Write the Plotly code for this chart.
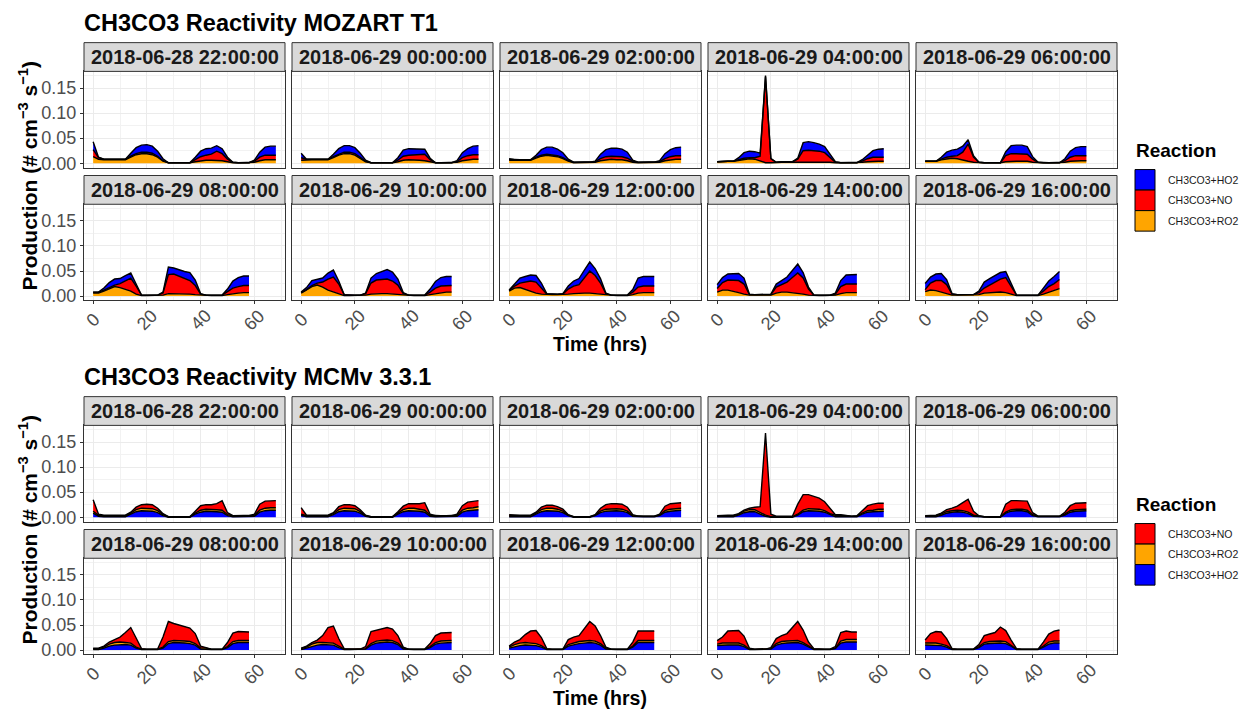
import plotly.graph_objects as go

# ---------------------------------------------------------------------------
# Data: CH3CO3 production (# cm-3 s-1) for each model run start time,
# sampled every 2 hours of simulated time.
# ---------------------------------------------------------------------------
RUN_LABELS = [
    "2018-06-28 22:00:00", "2018-06-29 00:00:00", "2018-06-29 02:00:00",
    "2018-06-29 04:00:00", "2018-06-29 06:00:00", "2018-06-29 08:00:00",
    "2018-06-29 10:00:00", "2018-06-29 12:00:00", "2018-06-29 14:00:00",
    "2018-06-29 16:00:00",
]
HOURS = [0, 2, 4, 6, 8, 10, 12, 14, 16, 18, 20, 22, 24, 26, 28, 30, 32, 34,
         36, 38, 40, 42, 44, 46, 48, 50, 52, 54, 56, 58, 60, 62, 64, 66, 68]
X_TICKS = [0, 20, 40, 60]
Y_TICKS = [0.0, 0.05, 0.10, 0.15]
Y_TICK_TEXT = ["0.00", "0.05", "0.10", "0.15"]

# MOZART T1 mechanism
moz_ro2 = [
    [.013,.008,.007,.007,.007,.007,.007, .012,.017,.019,.019,.017,.012,.004, .001,.001,.001,.001,.001, .003,.005,.006,.006,.006,.005,.003, .001,.001,.001,.001, .002,.005,.007,.007,.007],
    [.006,.007,.007,.007,.007,.007, .011,.016,.019,.019,.016,.010,.003, .001,.001,.001,.001,.001, .003,.006,.007,.007,.006,.005,.003, .001,.001,.001,.001, .002,.005,.007,.008,.008],
    [.006,.006,.006,.006,.006, .010,.014,.016,.015,.013,.009,.004, .001,.001,.001,.001, .002,.005,.007,.008,.007,.007,.005,.002, .001,.001,.001,.001, .002,.005,.007,.008,.008],
    [.003,.004,.004,.004, .006,.008,.009,.008,.004,.001,.001, .002,.002,.002,.002, .002,.003,.003,.003,.003,.003,.002,.001, .001,.001,.001,.001, .002,.003,.004,.004,.004],
    [.004,.004,.004, .007,.009,.010,.009,.006,.004,.002,.001, .001,.001,.001,.001, .003,.004,.004,.004,.004,.002,.001, .001,.001,.001,.001, .002,.004,.005,.005,.005],
    [.006,.006,.010,.015,.019,.017,.013,.010,.004, .001,.001,.001,.001, .002,.005,.005,.005,.005,.004,.003, .002,.001,.001,.001,.001, .003,.005,.006,.007,.007],
    [.006,.012,.019,.022,.018,.012,.008,.004,.001, .001,.001,.001, .002,.004,.005,.005,.005,.004,.003,.002, .001,.001,.001,.001, .003,.005,.007,.008,.008],
    [.010,.016,.017,.013,.009,.006,.004,.003, .003,.003,.003, .004,.005,.006,.006,.006,.005,.004,.002, .001,.001,.001,.001, .003,.006,.007,.007,.007],
    [.008,.012,.012,.010,.007,.004,.002, .002,.002,.002,.002, .006,.008,.008,.007,.006,.004,.002,.001, .001,.001,.001, .002,.005,.007,.007,.007],
    [.009,.012,.011,.008,.005,.002, .002,.002,.002,.002, .003,.006,.007,.008,.008,.007,.004,.001, .001,.001,.001,.001, .004,.008,.011,.015],
]
moz_no = [
    [.014,.003,.001,.001,.001,.001,.001, .002,.002,.003,.003,.003,.002,.001, 0,0,0,0,0, .004,.008,.010,.012,.018,.014,.005, .001,0,0,0, .002,.007,.009,.009,.009],
    [.005,.001,.001,.001,.001,.001, .002,.002,.003,.003,.003,.002,.001, 0,0,0,0,0, .003,.008,.009,.010,.011,.013,.004, 0,0,0,0, .001,.006,.008,.009,.009],
    [.002,.001,.001,.001,.001, .002,.002,.002,.002,.002,.002,.001, .001,.001,.001,.001, .001,.004,.006,.006,.006,.006,.005,.002, .001,.001,.001,.001, .001,.004,.006,.007,.007],
    [0,0,0,0, .001,.002,.002,.003,.010,.172,.008, 0,.001,.001,.001, .006,.022,.023,.022,.021,.018,.010,.001, 0,0,0,0, .002,.006,.008,.008,.008],
    [0,0,0, .001,.003,.004,.006,.016,.034,.010,.001, 0,0,0,0, .012,.015,.015,.015,.014,.006,.001, 0,0,0,0, .003,.008,.010,.010,.010],
    [.002,.002,.002,.002,.003,.008,.018,.026,.016, .001,.001,.001,.001, .004,.038,.039,.035,.030,.027,.018, .002,.001,.001,.001,.001, .006,.011,.013,.014,.014],
    [.001,.001,.002,.004,.010,.022,.030,.020,.002, .001,.001,.001, .003,.022,.027,.028,.029,.026,.019,.003, .001,.001,.001,.001, .005,.011,.013,.013,.013],
    [.001,.004,.009,.015,.021,.022,.012,.001, .001,.001,.001, .010,.015,.017,.030,.044,.036,.022,.003, .001,.001,.001,.001, .005,.012,.013,.013,.013],
    [.007,.015,.020,.022,.024,.020,.001, .001,.001,.001,.001, .012,.015,.020,.030,.040,.032,.012,.001, .001,.001,.001, .002,.014,.017,.017,.017],
    [.004,.014,.020,.023,.018,.002, .001,.001,.001,.001, .004,.010,.015,.020,.026,.030,.014,.001, .001,.001,.001,.001, .006,.011,.014,.018],
]
moz_ho2 = [
    [.016,.001,0,0,0,0,0, .006,.012,.014,.015,.014,.010,.004, 0,0,0,0,0, .005,.011,.013,.012,.011,.010,.004, 0,0,0,0, .002,.010,.016,.018,.018],
    [.009,0,0,0,0,0, .005,.011,.013,.013,.012,.008,.002, 0,0,0,0,0, .005,.012,.013,.012,.011,.010,.003, 0,0,0,0, .002,.010,.014,.017,.018],
    [.001,0,0,0,0, .004,.011,.014,.015,.013,.010,.003, 0,0,0,0, .001,.009,.014,.016,.017,.015,.012,.002, 0,0,0,0, .002,.010,.014,.016,.017],
    [0,0,0,0, .004,.011,.013,.012,.006,.002,0, 0,0,0,0, .002,.016,.017,.016,.014,.012,.006,.001, 0,0,0,0, .003,.008,.013,.016,.017],
    [0,0,0, .004,.010,.012,.013,.012,.009,.003,0, 0,0,0,0, .008,.016,.017,.017,.015,.005,0, 0,0,0,0, .004,.012,.016,.018,.018],
    [0,0,.004,.010,.012,.010,.010,.010,.004, 0,0,0,0, .002,.015,.012,.012,.014,.016,.011, .001,0,0,0,0, .005,.014,.018,.019,.019],
    [.001,.004,.010,.008,.008,.012,.014,.006,0, 0,0,0, .001,.010,.013,.016,.019,.018,.012,.002, 0,0,0,0, .006,.013,.017,.018,.018],
    [.001,.005,.010,.011,.012,.013,.010,.001, 0,0,.001, .006,.010,.012,.016,.018,.014,.009,.001, 0,0,0,0, .005,.018,.019,.019,.019],
    [.008,.010,.012,.013,.014,.012,.001, 0,0,0,.001, .006,.008,.010,.014,.018,.011,.004,0, 0,0,0, .002,.012,.018,.019,.019],
    [.012,.012,.013,.014,.010,.001, 0,0,0,0, .003,.012,.013,.013,.013,.012,.006,0, 0,0,0,0, .006,.011,.014,.016],
]

# MCM v3.3.1 mechanism
mcm_ho2 = [
    [.008,.002, .001,.001,.001,.001,.001, .006,.011,.013,.013,.012,.009,.003, 0,0,0,0,0, .006,.010,.012,.012,.011,.010,.003, .001,.001,.001,.001, .002,.010,.013,.014,.014],
    [.004,.001, .001,.001,.001,.001, .005,.011,.013,.013,.012,.008,.002, 0,0,0,0,0, .006,.011,.013,.013,.012,.010,.002, .001,.001,.001,.001, .002,.010,.013,.014,.015],
    [.001,.001,.001,.001,.001, .006,.011,.013,.013,.012,.009,.003, 0,0,0,0, .003,.009,.012,.013,.013,.012,.009,.002, .001,.001,.001,.001, .003,.010,.012,.013,.014],
    [.001,.001,.001,.001, .004,.009,.011,.011,.006,.002,0, 0,0,0,0, .004,.011,.013,.013,.012,.010,.005, .001,.001,.001,.001,.001, .006,.010,.011,.012,.012],
    [.001,.001,.001, .004,.008,.010,.011,.010,.007,.002,.001, 0,0,0,0, .008,.012,.013,.013,.011,.003, .001,.001,.001,.001,.001, .004,.010,.012,.013,.013],
    [.001,.001,.004,.008,.010,.011,.011,.010,.004,.001, .001,.001,.001, .004,.013,.015,.015,.014,.013,.010,.002,.001, .001,.001,.001, .005,.013,.015,.015,.015],
    [.001,.004,.008,.010,.011,.011,.010,.005,.001, .001,.001,.001, .002,.010,.014,.015,.016,.015,.011,.002, .001,.001,.001,.001, .005,.012,.014,.015,.015],
    [.004,.007,.009,.010,.010,.009,.006,.001, .001,.001,.001, .008,.011,.013,.014,.015,.014,.010,.002, .001,.001,.001,.001, .006,.015,.015,.015,.015],
    [.009,.010,.010,.010,.010,.007,.001, .001,.001,.001, .002,.010,.013,.014,.015,.015,.012,.006,.001, .001,.001,.001, .003,.014,.016,.016,.016],
    [.010,.010,.010,.009,.006,.001, .001,.001,.001,.001, .005,.012,.013,.014,.014,.013,.008,.001, .001,.001,.001,.001, .006,.012,.014,.014],
]
mcm_ro2 = [
    [.004,.002, .002,.002,.002,.002,.002, .002,.004,.005,.005,.005,.004,.002, .001,.001,.001,.001,.001, .002,.004,.004,.004,.004,.004,.002, .002,.002,.002,.002, .002,.004,.005,.005,.005],
    [.002,.002, .002,.002,.002,.002, .002,.004,.005,.005,.005,.003,.001, .001,.001,.001,.001,.001, .002,.004,.005,.005,.004,.004,.002, .002,.002,.002,.002, .002,.004,.005,.005,.006],
    [.002,.002,.002,.002,.002, .002,.004,.005,.005,.004,.003,.001, .001,.001,.001,.001, .001,.003,.004,.004,.004,.004,.003,.001, .001,.001,.001,.001, .001,.003,.004,.004,.004],
    [.001,.002,.002,.002, .002,.003,.004,.004,.003,.002,.001, .001,.001,.001,.001, .002,.003,.004,.004,.004,.003,.002, .003,.003,.002,.001,.001, .002,.003,.003,.004,.004],
    [.001,.002,.002, .002,.003,.003,.003,.003,.003,.002,.001, .001,.001,.001,.001, .002,.003,.003,.003,.003,.002, .001,.001,.001,.001,.001, .002,.003,.003,.003,.003],
    [.002,.002,.002,.004,.005,.005,.004,.004,.002,.001, .001,.001,.001, .002,.004,.004,.004,.004,.004,.003,.002,.003, .001,.001,.001, .002,.004,.004,.004,.004],
    [.002,.002,.004,.005,.004,.004,.004,.003,.001, .001,.001,.001, .001,.003,.004,.004,.004,.004,.003,.002, .001,.001,.001,.001, .002,.003,.004,.004,.004],
    [.002,.004,.005,.005,.004,.004,.003,.001, .001,.001,.001, .003,.003,.004,.004,.004,.004,.003,.002, .001,.001,.001,.001, .002,.004,.004,.004,.004],
    [.003,.004,.004,.004,.004,.003,.001, .001,.001,.001, .001,.003,.004,.004,.004,.004,.003,.002,.001, .001,.001,.001, .001,.004,.005,.005,.005],
    [.004,.004,.004,.003,.003,.001, .001,.001,.001,.001, .002,.003,.004,.004,.004,.004,.002,.001, .001,.001,.001,.001, .002,.004,.004,.004],
]
mcm_no = [
    [.023,.002, .001,.001,.001,.001,.001, .002,.005,.007,.008,.008,.005,.002, 0,0,0,0,0, .004,.009,.009,.009,.012,.019,.004, 0,0,0,0, .002,.012,.014,.014,.014],
    [.013,.001, .001,.001,.001,.001, .002,.006,.007,.007,.006,.004,.001, 0,0,0,0,0, .003,.007,.009,.009,.011,.015,.002, 0,0,0,0, .002,.009,.012,.013,.012],
    [.002,.001,.001,.001,.001, .002,.005,.006,.006,.005,.004,.001, 0,0,0,0, .001,.006,.009,.010,.010,.010,.008,.002, 0,0,0,0, .002,.009,.011,.011,.011],
    [.001,.001,.001,.001, .001,.002,.003,.005,.012,.164,.005, .001,.001,.001,.001, .020,.031,.028,.025,.022,.018,.010, .001,.001,0,0,.001, .006,.010,.012,.012,.012],
    [.001,.001,.001, .002,.004,.005,.008,.016,.026,.008,.001, 0,0,0,0, .016,.018,.017,.017,.018,.004, 0,0,0,0,0, .004,.010,.013,.013,.013],
    [.001,.001,.002,.004,.006,.010,.020,.031,.018,.001, 0,0,0, .020,.040,.034,.031,.029,.027,.020,.004,.001, 0,0,0, .008,.017,.018,.018,.017],
    [.001,.002,.003,.005,.014,.030,.034,.015,.001, 0,0,0, .004,.024,.022,.023,.025,.023,.015,.002, 0,0,0,0, .006,.014,.016,.016,.016],
    [.002,.005,.007,.016,.024,.026,.016,.001, 0,0,0, .010,.012,.012,.024,.038,.030,.016,.002, 0,0,0,0, .008,.019,.019,.019,.019],
    [.007,.012,.024,.025,.025,.018,.002, 0,0,0, .002,.010,.012,.015,.026,.038,.025,.008,.001, 0,0,0, .003,.017,.017,.015,.015],
    [.006,.019,.023,.024,.014,.001, 0,0,0,0, .004,.014,.015,.017,.028,.022,.010,.001, 0,0,0,0, .008,.016,.020,.022],
]

COLORS = {"CH3CO3+HO2": "#0000FF", "CH3CO3+NO": "#FF0000", "CH3CO3+RO2": "#FFA500"}

# Each block: title, stacking order (bottom -> top) and legend order
BLOCKS = [
    {
        "title": "CH3CO3 Reactivity MOZART T1",
        "stack": [("CH3CO3+RO2", moz_ro2), ("CH3CO3+NO", moz_no), ("CH3CO3+HO2", moz_ho2)],
        "legend": ["CH3CO3+HO2", "CH3CO3+NO", "CH3CO3+RO2"],
    },
    {
        "title": "CH3CO3 Reactivity MCMv 3.3.1",
        "stack": [("CH3CO3+HO2", mcm_ho2), ("CH3CO3+RO2", mcm_ro2), ("CH3CO3+NO", mcm_no)],
        "legend": ["CH3CO3+NO", "CH3CO3+RO2", "CH3CO3+HO2"],
    },
]

# ---------------------------------------------------------------------------
# Layout geometry (pixels)
# ---------------------------------------------------------------------------
W, H = 1243, 713
COL_LEFT = [84, 292, 500, 708, 916]
PANEL_W = 201
ROW_TOP = [72, 206]
PANEL_H = 97
STRIP_H = 29
BLOCK_OFFSET = [0, 357]
X_RANGE = [-3.4, 71.4]
Y_RANGE = [-0.0087, 0.1832]

FONT = "Liberation Sans, Arial, Helvetica, sans-serif"
GRID = "#EBEBEB"
FRAME = "#333333"
TICK_TXT = "#4D4D4D"


def px(x):
    return x / W


def py(y):
    return 1 - y / H


fig = go.Figure()
shapes = []
annotations = []

for b, block in enumerate(BLOCKS):
    off = BLOCK_OFFSET[b]
    for i, label in enumerate(RUN_LABELS):
        n = b * 10 + i + 1
        row, col = divmod(i, 5)
        left = COL_LEFT[col]
        top = ROW_TOP[row] + off
        xname = "x" if n == 1 else f"x{n}"
        yname = "y" if n == 1 else f"y{n}"
        xkey = "xaxis" if n == 1 else f"xaxis{n}"
        ykey = "yaxis" if n == 1 else f"yaxis{n}"

        npts = len(block["stack"][0][1][i])
        hrs = HOURS[:npts]
        for name, series in block["stack"]:
            vals = series[i]
            if len(vals) != npts:
                raise ValueError(f"length mismatch {name} panel {i}")
            fig.add_trace(go.Scatter(
                x=hrs, y=vals, xaxis=xname, yaxis=yname,
                stackgroup=f"s{n}", mode="lines", name=name,
                line=dict(color="black", width=1.4),
                fillcolor=COLORS[name], showlegend=False,
                hoverinfo="skip",
            ))

        bottom_row = row == 1
        first_col = col == 0
        fig.layout[xkey] = dict(
            domain=[px(left), px(left + PANEL_W)], anchor=yname,
            range=X_RANGE, tickvals=X_TICKS, showticklabels=False,
            ticks="outside" if bottom_row else "", ticklen=3,
            tickcolor=FRAME, tickwidth=1,
            showgrid=True, gridcolor=GRID, gridwidth=1,
            minor=dict(tickvals=[-10, 10, 30, 50, 70], showgrid=True,
                       gridcolor="#F2F2F2", gridwidth=1, ticks=""),
            showline=True, mirror=True, linecolor=FRAME, linewidth=1,
            zeroline=False, fixedrange=True,
        )
        fig.layout[ykey] = dict(
            domain=[py(top + PANEL_H), py(top)], anchor=xname,
            range=Y_RANGE, tickvals=Y_TICKS, ticktext=Y_TICK_TEXT,
            showticklabels=first_col,
            tickfont=dict(family=FONT, size=18, color=TICK_TXT),
            ticks="outside" if first_col else "", ticklen=3,
            tickcolor=FRAME, tickwidth=1,
            showgrid=True, gridcolor=GRID, gridwidth=1,
            minor=dict(tickvals=[0.025, 0.075, 0.125, 0.175], showgrid=True,
                       gridcolor="#F2F2F2", gridwidth=1, ticks=""),
            showline=True, mirror=True, linecolor=FRAME, linewidth=1,
            zeroline=False, fixedrange=True,
        )

        # facet strip
        shapes.append(dict(
            type="rect", xref="paper", yref="paper",
            x0=px(left), x1=px(left + PANEL_W),
            y0=py(top), y1=py(top - STRIP_H),
            fillcolor="#D9D9D9", line=dict(color=FRAME, width=1), layer="above",
        ))
        annotations.append(dict(
            text=label, xref="paper", yref="paper",
            x=px(left + PANEL_W / 2), y=py(top - STRIP_H / 2),
            xanchor="center", yanchor="middle", showarrow=False,
            font=dict(family=FONT, size=20, color="#1A1A1A", weight="bold"),
        ))

        # rotated x tick labels under the bottom row
        if bottom_row:
            for t in X_TICKS:
                annotations.append(dict(
                    text=str(t), xref=xname, yref=f"{yname} domain",
                    x=t, y=0, yshift=-19.5, xanchor="center", yanchor="middle",
                    textangle=-45, showarrow=False,
                    font=dict(family=FONT, size=18, color=TICK_TXT),
                ))

    # block title
    annotations.append(dict(
        text=block["title"], xref="paper", yref="paper",
        x=px(82), y=py(23 + off), xanchor="left", yanchor="middle",
        showarrow=False,
        font=dict(family=FONT, size=23.5, color="black", weight="bold"),
    ))
    # y axis title
    annotations.append(dict(
        text="Production (# cm<sup>\u22123</sup> s<sup>\u22121</sup>)",
        xref="paper", yref="paper", x=px(28), y=py(177 + off),
        xanchor="center", yanchor="middle", textangle=-90, showarrow=False,
        font=dict(family=FONT, size=21, color="black", weight="bold"),
    ))
    # x axis title
    annotations.append(dict(
        text="Time (hrs)", xref="paper", yref="paper",
        x=px(600), y=py(347 + off), xanchor="center", yanchor="middle",
        showarrow=False,
        font=dict(family=FONT, size=19.5, color="black", weight="bold"),
    ))

    # legend: title, keys and labels
    annotations.append(dict(
        text="Reaction", xref="paper", yref="paper",
        x=px(1134), y=py(152 + off), xanchor="left", yanchor="middle",
        showarrow=False,
        font=dict(family=FONT, size=19, color="black", weight="bold"),
    ))
    key_top = 171 + off
    key_h = 20.7
    for k, name in enumerate(block["legend"]):
        y0 = key_top + k * key_h
        shapes.append(dict(
            type="rect", xref="paper", yref="paper",
            x0=px(1135), x1=px(1155), y0=py(y0 + key_h), y1=py(y0),
            fillcolor=COLORS[name], line=dict(color="black", width=1),
        ))
        annotations.append(dict(
            text=name, xref="paper", yref="paper",
            x=px(1166), y=py(y0 + key_h / 2), xanchor="left", yanchor="middle",
            showarrow=False,
            font=dict(family=FONT, size=10.5, color="#1A1A1A"),
        ))

fig.update_layout(
    width=W, height=H,
    margin=dict(l=0, r=0, t=0, b=0),
    paper_bgcolor="white", plot_bgcolor="white",
    showlegend=False,
    shapes=shapes, annotations=annotations,
    font=dict(family=FONT),
)

fig.write_html("out.html")
